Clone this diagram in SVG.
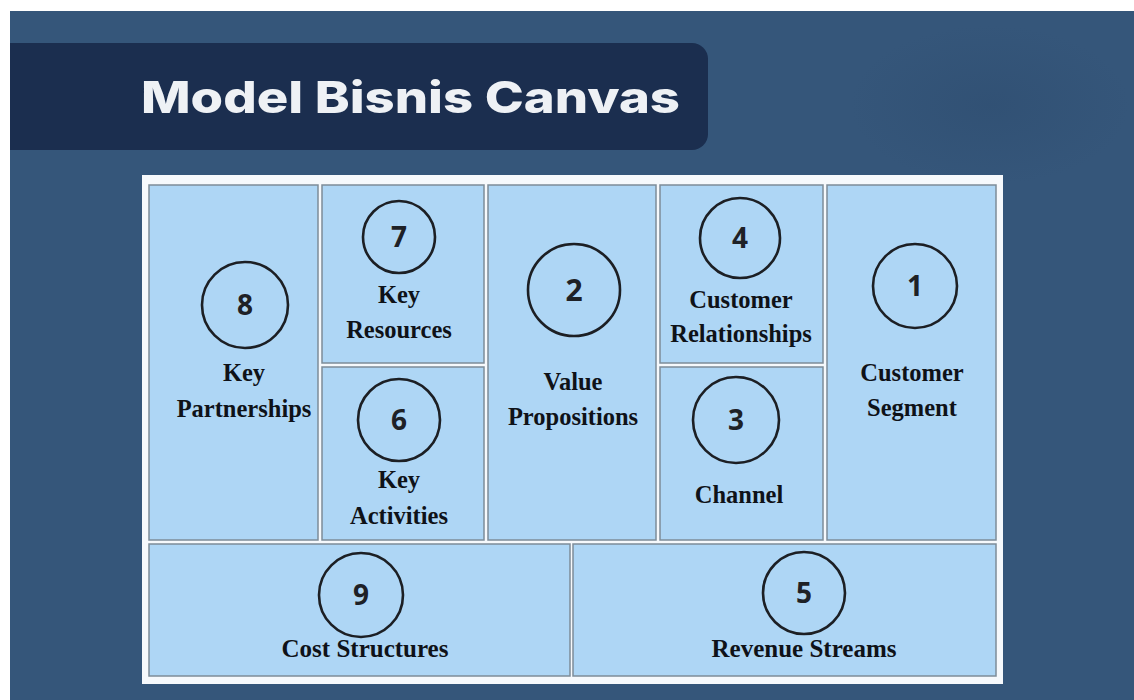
<svg xmlns="http://www.w3.org/2000/svg" width="1134" height="700" viewBox="0 0 1134 700">
  <defs>
    <style>
      .cell { fill: #aed6f5; stroke: #7d8c98; stroke-width: 1.5; }
      .ring { fill: none; stroke: #1c1f24; stroke-width: 2.6; }
      .num { font-family: "Open Sans", "Noto Sans", "DejaVu Sans", sans-serif; font-weight: 700; font-size: 28px; fill: #1e2126; text-anchor: middle; }
      .lbl { font-family: "Liberation Serif", "Times New Roman", serif; font-weight: 700; font-size: 24.5px; fill: #0f1218; text-anchor: middle; }
      .title { font-family: Inter, "Lato", "DejaVu Sans", sans-serif; font-weight: 800; font-size: 44px; fill: #eef1f5; }
    </style>
    <radialGradient id="glow" cx="0.5" cy="0.5" r="0.5">
      <stop offset="0" stop-color="#2e4d70" stop-opacity="0.55"/>
      <stop offset="1" stop-color="#2e4d70" stop-opacity="0"/>
    </radialGradient>
  </defs>

  <!-- page -->
  <rect x="0" y="0" width="1134" height="700" fill="#ffffff"/>
  <rect x="10" y="11" width="1124" height="689" fill="#35567a"/>
  <ellipse cx="990" cy="105" rx="140" ry="80" fill="url(#glow)"/>

  <!-- title banner -->
  <g id="title">
    <path d="M10 43 H692 A16 16 0 0 1 708 59 V134 A16 16 0 0 1 692 150 H10 Z" fill="#1b2e4f"/>
    <text class="title" x="141" y="113" textLength="539" lengthAdjust="spacingAndGlyphs">Model Bisnis Canvas</text>
  </g>

  <!-- canvas frame -->
  <rect x="142" y="175" width="861" height="509" fill="#f6f9fc"/>

  <g id="key-partnerships">
    <rect class="cell" x="149" y="185" width="169" height="355"/>
    <circle class="ring" cx="245" cy="305" r="43"/>
    <text class="num" x="245" y="315">8</text>
    <text class="lbl" x="244" y="381">Key</text>
    <text class="lbl" x="244" y="417">Partnerships</text>
  </g>

  <g id="key-resources">
    <rect class="cell" x="322" y="185" width="162" height="178"/>
    <circle class="ring" cx="399" cy="237" r="36"/>
    <text class="num" x="399" y="247">7</text>
    <text class="lbl" x="399" y="303">Key</text>
    <text class="lbl" x="399" y="338">Resources</text>
  </g>

  <g id="key-activities">
    <rect class="cell" x="322" y="367" width="162" height="173"/>
    <circle class="ring" cx="399" cy="420" r="41"/>
    <text class="num" x="399" y="430">6</text>
    <text class="lbl" x="399" y="488">Key</text>
    <text class="lbl" x="399" y="524">Activities</text>
  </g>

  <g id="value-propositions">
    <rect class="cell" x="488" y="185" width="168" height="355"/>
    <circle class="ring" cx="574" cy="290" r="46"/>
    <text class="num" x="574" y="301" style="font-size:30px">2</text>
    <text class="lbl" x="573" y="390">Value</text>
    <text class="lbl" x="573" y="425">Propositions</text>
  </g>

  <g id="customer-relationships">
    <rect class="cell" x="660" y="185" width="163" height="178"/>
    <circle class="ring" cx="740" cy="238" r="40"/>
    <text class="num" x="740" y="248">4</text>
    <text class="lbl" x="741" y="308">Customer</text>
    <text class="lbl" x="741" y="342">Relationships</text>
  </g>

  <g id="channel">
    <rect class="cell" x="660" y="367" width="163" height="173"/>
    <circle class="ring" cx="736" cy="420" r="43"/>
    <text class="num" x="736" y="430">3</text>
    <text class="lbl" x="739" y="503">Channel</text>
  </g>

  <g id="customer-segment">
    <rect class="cell" x="827" y="185" width="169" height="355"/>
    <circle class="ring" cx="915" cy="286" r="42"/>
    <text class="num" x="915" y="296">1</text>
    <text class="lbl" x="912" y="381">Customer</text>
    <text class="lbl" x="912" y="416">Segment</text>
  </g>

  <g id="cost-structures">
    <rect class="cell" x="149" y="544" width="421" height="132"/>
    <circle class="ring" cx="361" cy="595" r="42"/>
    <text class="num" x="361" y="605">9</text>
    <text class="lbl" x="365" y="657" style="font-size:25px">Cost Structures</text>
  </g>

  <g id="revenue-streams">
    <rect class="cell" x="573" y="544" width="423" height="132"/>
    <circle class="ring" cx="804" cy="593" r="41"/>
    <text class="num" x="804" y="603">5</text>
    <text class="lbl" x="804" y="657" style="font-size:25px">Revenue Streams</text>
  </g>

  <!-- no connectors in this layout -->
  <g id="connectors"/>
</svg>
